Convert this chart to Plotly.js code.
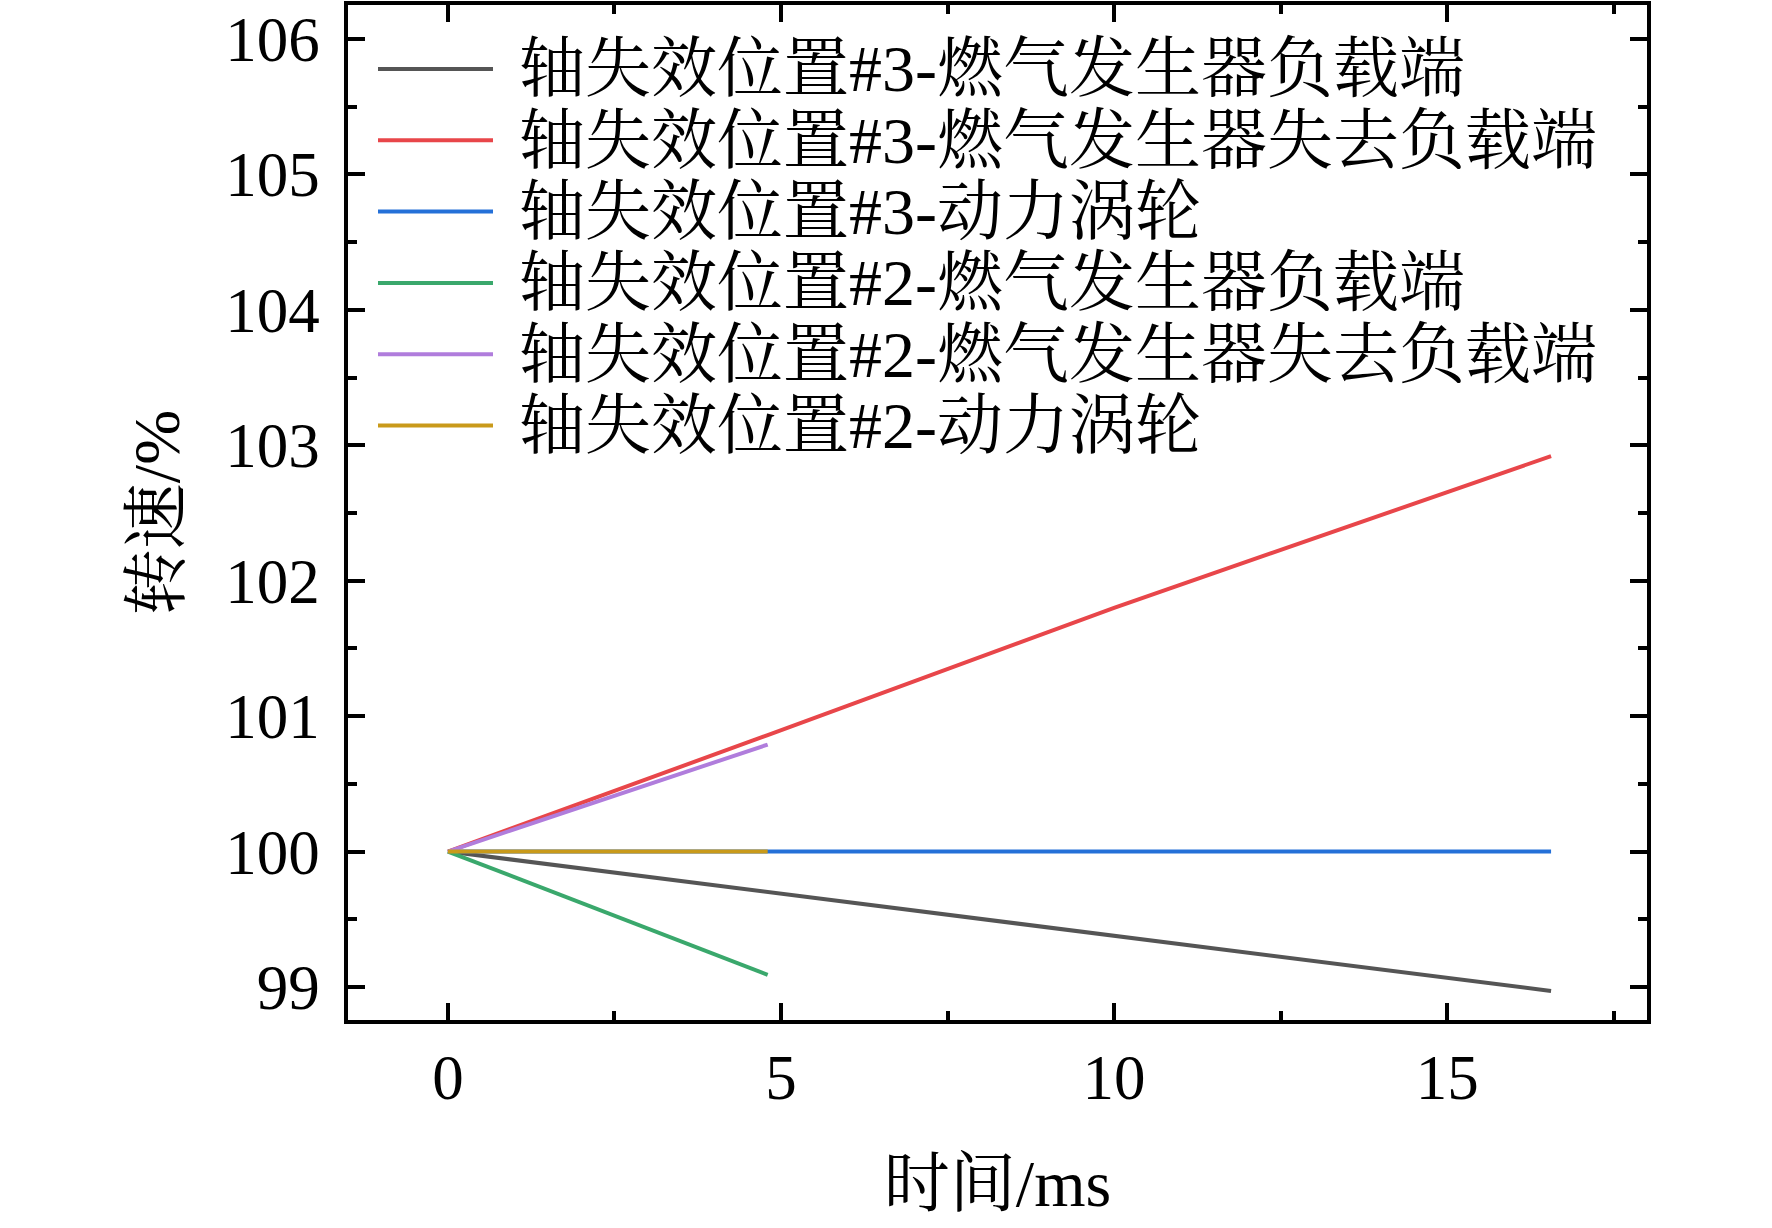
<!DOCTYPE html>
<html>
<head>
<meta charset="utf-8">
<script src="https://cdn.plot.ly/plotly-3.0.1.min.js"></script>
<style>
html, body { margin: 0; padding: 0; background: #ffffff; }
#chart { width: 1772px; height: 1228px; }
</style>
</head>
<body>
<div id="chart"></div>
<script>
// Series names
var seriesNames = [
  "轴失效位置#3-燃气发生器负载端",
  "轴失效位置#3-燃气发生器失去负载端",
  "轴失效位置#3-动力涡轮",
  "轴失效位置#2-燃气发生器负载端",
  "轴失效位置#2-燃气发生器失去负载端",
  "轴失效位置#2-动力涡轮"
];
// Time (ms) and speed (%) values
var t3_gg_load = [0, 5, 10, 16.56];
var v3_gg_load = [100, 99.69, 99.38, 98.97];
var t3_gg_unload = [0, 4.8, 10, 16.56];
var v3_gg_unload = [100, 100.86, 101.8, 102.92];
var t3_pt = [0, 16.56];
var v3_pt = [100, 100];
var t2_gg_load = [0, 4.8];
var v2_gg_load = [100, 99.09];
var t2_gg_unload = [0, 4.8];
var v2_gg_unload = [100, 100.79];
var t2_pt = [0, 4.8];
var v2_pt = [100, 100];

var xTickVals = [0, 5, 10, 15];
var xTickText = ["0", "5", "10", "15"];
var yTickVals = [99, 100, 101, 102, 103, 104, 105, 106];
var yTickText = ["99", "100", "101", "102", "103", "104", "105", "106"];

var seriesX = [t3_gg_load, t3_gg_unload, t3_pt, t2_gg_load, t2_gg_unload, t2_pt];
var seriesY = [v3_gg_load, v3_gg_unload, v3_pt, v2_gg_load, v2_gg_unload, v2_pt];
var colors = ["#555555", "#e8464a", "#2470d8", "#3aa86c", "#b07ddc", "#c99a1a"];

var fontFam = "'Liberation Serif', 'Times New Roman', 'Noto Serif CJK SC', 'Noto Sans CJK SC', serif";

var traces = seriesNames.map(function (name, i) {
  return {
    type: "scatter",
    mode: "lines",
    name: name,
    x: seriesX[i],
    y: seriesY[i],
    line: { color: colors[i], width: 4 },
    showlegend: false
  };
});

// Legend drawn in paper coordinates (layout only)
var W = 1772, H = 1228, mL = 348, mR = 125, mT = 5, mB = 208;
var plotW = W - mL - mR, plotH = H - mT - mB;
function px2paperX(px) { return (px - mL) / plotW; }
function px2paperY(py) { return (H - mB - py) / plotH; }
var legendTop = 69, legendStep = 71.3;
var shapes = [], annotations = [];
seriesNames.forEach(function (name, i) {
  var yy = px2paperY(legendTop + i * legendStep);
  shapes.push({
    type: "line", xref: "paper", yref: "paper",
    x0: px2paperX(378), x1: px2paperX(493), y0: yy, y1: yy,
    line: { color: colors[i], width: 4 }
  });
  annotations.push({
    xref: "paper", yref: "paper", x: px2paperX(517), y: yy,
    xanchor: "left", yanchor: "middle", showarrow: false,
    text: name, font: { family: fontFam, size: 66, color: "#000" }
  });
});

var layout = {
  width: W,
  height: H,
  paper_bgcolor: "#ffffff",
  plot_bgcolor: "#ffffff",
  margin: { l: mL, r: mR, t: mT, b: mB },
  font: { family: fontFam, color: "#000000", size: 62 },
  showlegend: false,
  shapes: shapes,
  annotations: annotations,
  xaxis: {
    range: [-1.5, 18],
    tickmode: "array",
    tickvals: xTickVals,
    ticktext: xTickText,
    ticks: "inside", ticklen: 17, tickwidth: 3.5, tickcolor: "#000",
    minor: { tickvals: [2.5, 7.5, 12.5, 17.5], ticks: "inside", ticklen: 9, tickwidth: 3.5, tickcolor: "#000" },
    showline: true, linewidth: 3.5, linecolor: "#000", mirror: "ticks",
    showgrid: false, zeroline: false,
    tickfont: { family: fontFam, size: 63 },
    title: { text: "时间/ms", font: { family: fontFam, size: 66 }, standoff: 48 }
  },
  yaxis: {
    range: [98.756, 106.251],
    tickmode: "array",
    tickvals: yTickVals,
    ticktext: yTickText,
    ticks: "inside", ticklen: 17, tickwidth: 3.5, tickcolor: "#000",
    minor: { tickvals: [99.5, 100.5, 101.5, 102.5, 103.5, 104.5, 105.5], ticks: "inside", ticklen: 9, tickwidth: 3.5, tickcolor: "#000" },
    showline: true, linewidth: 3.5, linecolor: "#000", mirror: "ticks",
    showgrid: false, zeroline: false,
    ticklabelstandoff: 12,
    tickfont: { family: fontFam, size: 63 },
    title: { text: "转速/%", font: { family: fontFam, size: 66 }, standoff: 25 }
  }
};

Plotly.newPlot("chart", traces, layout, { displayModeBar: false, responsive: false });
</script>
</body>
</html>
